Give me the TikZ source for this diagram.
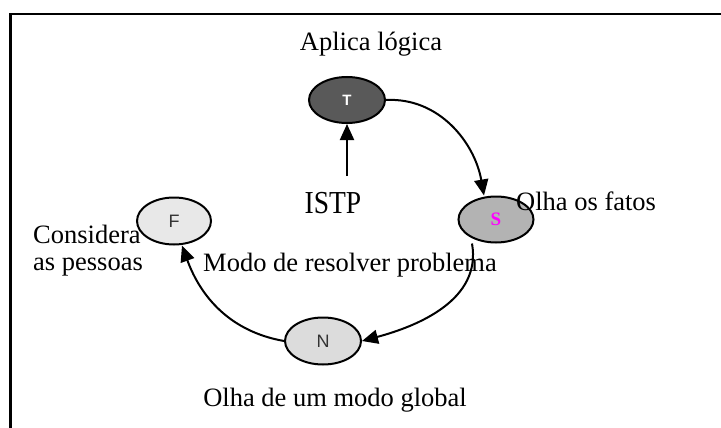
\documentclass[tikz,border=0pt]{standalone}
\usepackage{fontspec}
\usepackage{graphicx}
\setmainfont{Liberation Serif}
\newfontfamily\lettersans{Liberation Sans}
\usetikzlibrary{arrows.meta,shapes.geometric}

\definecolor{tfill}{HTML}{595959}
\definecolor{sfill}{HTML}{B3B3B3}
\definecolor{ffill}{HTML}{E8E8E8}
\definecolor{nfill}{HTML}{DCDCDC}
\definecolor{lettergray}{HTML}{333333}
\definecolor{sletter}{RGB}{255,0,255}

\tikzset{
  phase/.style={ellipse, draw=black, line width=2pt, minimum width=76pt,
    minimum height=46pt, inner sep=0pt},
  label text/.style={font=\fontsize{26.5}{28}\selectfont, inner sep=0pt},
  flow/.style={line width=2pt, -{Triangle[length=16pt,width=14pt]}},
  frame/.style={line width=2.4pt}
}

\begin{document}
\begin{tikzpicture}[x=1pt,y=-1pt]
  \useasboundingbox (0,0) rectangle (721,428);

  % open frame: left edge and top edge
  \draw[frame] (10.5,428) -- (10.5,14) -- (721,14);

  % the four function ellipses
  \node[phase, fill=tfill] (T) at (347,100)
    {\lettersans\fontsize{15}{15}\selectfont\bfseries\color{white}T};
  \node[phase, fill=sfill, minimum width=75pt] (S) at (496,219.5)
    {\fontsize{19}{19}\selectfont\bfseries\color{sletter}S};
  \node[phase, fill=ffill, minimum width=74pt, minimum height=47pt] (F) at (174,221)
    {\lettersans\fontsize{18}{18}\selectfont\color{lettergray}F};
  \node[phase, fill=nfill, minimum width=76pt, minimum height=47pt] (N) at (323,341)
    {\lettersans\fontsize{18}{18}\selectfont\color{lettergray}N};

  % labels
  \node[label text, anchor=base] (aplica) at (371,51) {Aplica lógica};
  \node[label text, anchor=base, font=\fontsize{32}{34}\selectfont] (istp) at (333,213)
    {\scalebox{0.86}[1]{ISTP}};
  \node[label text, anchor=base west] (fatos) at (516,210) {Olha os fatos};
  \node[label text, anchor=base west] (considera) at (33,243) {Considera};
  \node[label text, anchor=base west] (pessoas) at (33,270) {as pessoas};
  \node[label text, anchor=base west] (modo) at (203,271) {Modo de resolver problema};
  \node[label text, anchor=base] (global) at (335,406) {Olha de um modo global};

  % arrows
  \coordinate (istpTop) at (347,176);
  \draw[flow] (istpTop) -- (T.south);
  \draw[flow] (T.east) to[out=3, in=100] ([xshift=-12pt]S.north);
  \draw[flow] ([xshift=-24pt]S.south) to[out=-80, in=15] (N.east);
  \draw[flow] (N.west) to[out=170, in=-70] ([xshift=8pt]F.south);
\end{tikzpicture}
\end{document}
